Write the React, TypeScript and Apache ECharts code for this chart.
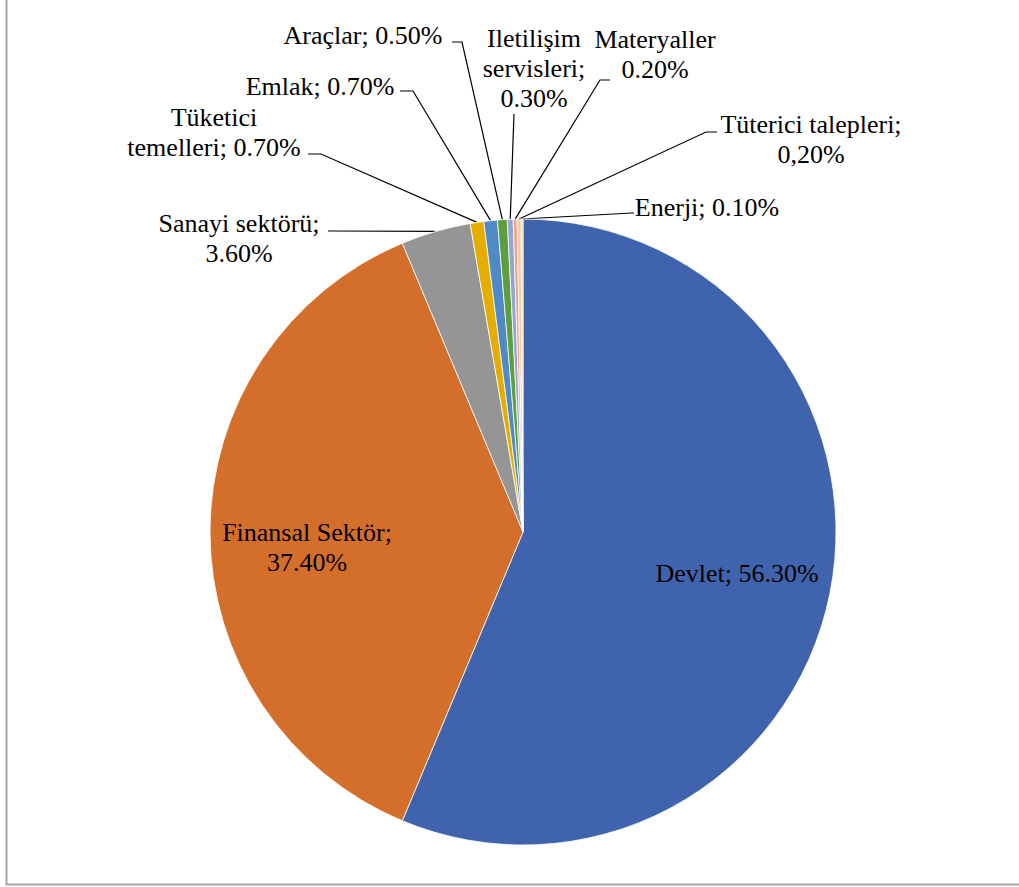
import React, { useEffect, useRef } from 'react';
import * as echarts from 'echarts';

// ---- data ----
const categories = [
  'Devlet',
  'Finansal Sektör',
  'Sanayi sektörü',
  'Tüketici temelleri',
  'Emlak',
  'Araçlar',
  'Iletilişim servisleri',
  'Materyaller',
  'Tüterici talepleri',
  'Enerji',
];
const values = [56.3, 37.4, 3.6, 0.7, 0.7, 0.5, 0.3, 0.2, 0.2, 0.1];
const valueTexts = ['56.30%', '37.40%', '3.60%', '0.70%', '0.70%', '0.50%', '0.30%', '0.20%', '0,20%', '0.10%'];

// ---- label text wrapping ----
const nameWraps = [
  'Devlet',
  'Finansal Sektör',
  'Sanayi sektörü',
  'Tüketici\ntemelleri',
  'Emlak',
  'Araçlar',
  'Iletilişim\nservisleri',
  'Materyaller',
  'Tüterici talepleri',
  'Enerji',
];
const separators = ['; ', ';\n', ';\n', '; ', '; ', '; ', ';\n', '\n', ';\n', '; '];

// ---- styles / layout ----
const colors = ['#3F64AD', '#D46E2B', '#959595', '#E5AD00', '#4F8AC7', '#5E9E3E', '#8EA5D6', '#F0A38A', '#F8C9A8', '#FFE29A'];
const insideLabel = [true, true, false, false, false, false, false, false, false, false];
const labelCenters: number[][] = [
  [737, 573], [307, 547], [239, 238], [214, 132], [320, 86],
  [363, 35], [534, 68], [655, 54], [811, 139], [707, 207],
];
const leaderBends: (number[][] | null)[] = [
  null, null,
  [[330, 231], [328, 231]],
  [[321, 154], [308, 154]],
  [[413, 91], [400, 91]],
  [[462, 42], [452, 42]],
  [[514, 114], [514, 114]],
  [[600, 80], [610, 80]],
  [[706, 132], [717, 132]],
  [[632, 213], [634, 213]],
];
const pieCenter = [523, 532];
const pieRadius = 313;

export default function App() {
  const ref = useRef<HTMLDivElement>(null);
  useEffect(() => {
    if (!ref.current) return;
    const chart = echarts.init(ref.current, undefined, { renderer: 'svg' });
    const total = values.reduce((a, b) => a + b, 0);
    const edgePoint = (i: number) => {
      let cum = 0;
      for (let k = 0; k < i; k++) cum += values[k];
      const mid = ((cum + values[i] / 2) / total) * Math.PI * 2;
      return [pieCenter[0] + pieRadius * Math.sin(mid), pieCenter[1] - pieRadius * Math.cos(mid)];
    };
    chart.setOption({
      animation: false,
      backgroundColor: '#ffffff',
      graphic: [
        {
          type: 'rect',
          shape: { x: 6.5, y: -10, width: 1100, height: 894.5 },
          style: { fill: 'none', stroke: '#A6A6A6', lineWidth: 2 },
          silent: true,
        },
      ],
      series: [
        {
          type: 'pie',
          center: pieCenter,
          radius: pieRadius,
          startAngle: 90,
          clockwise: true,
          avoidLabelOverlap: false,
          minShowLabelAngle: 0,
          emphasis: { disabled: true },
          itemStyle: { borderColor: '#ffffff', borderWidth: 0.8 },
          label: {
            show: true,
            position: 'outside',
            color: '#000000',
            fontFamily: 'Liberation Serif',
            fontSize: 26,
            lineHeight: 30,
            align: 'center',
            overflow: 'none',
            formatter: (p: any) => nameWraps[p.dataIndex] + separators[p.dataIndex] + valueTexts[p.dataIndex],
          },
          labelLine: {
            show: true,
            length: 10,
            length2: 10,
            smooth: false,
            lineStyle: { color: '#000000', width: 1.2 },
          },
          labelLayout: (params: any) => {
            const i = params.dataIndex;
            const c = labelCenters[i];
            const res: any = { x: c[0], y: c[1], align: 'center', verticalAlign: 'middle' };
            const b = leaderBends[i];
            if (b) {
              const start = (params.labelLinePoints && params.labelLinePoints[0]) || edgePoint(i);
              res.labelLinePoints = [start, b[0], b[1]];
            }
            return res;
          },
          data: categories.map((name, i) => ({
            name,
            value: values[i],
            itemStyle: { color: colors[i] },
            label: insideLabel[i] ? { position: 'inside' } : undefined,
            labelLine: insideLabel[i] ? { show: false } : undefined,
          })),
        },
      ],
    });
    return () => chart.dispose();
  }, []);
  return (
    <div
      ref={ref}
      style={{ position: 'absolute', left: 0, top: 0, width: 1019, height: 887 }}
    />
  );
}
